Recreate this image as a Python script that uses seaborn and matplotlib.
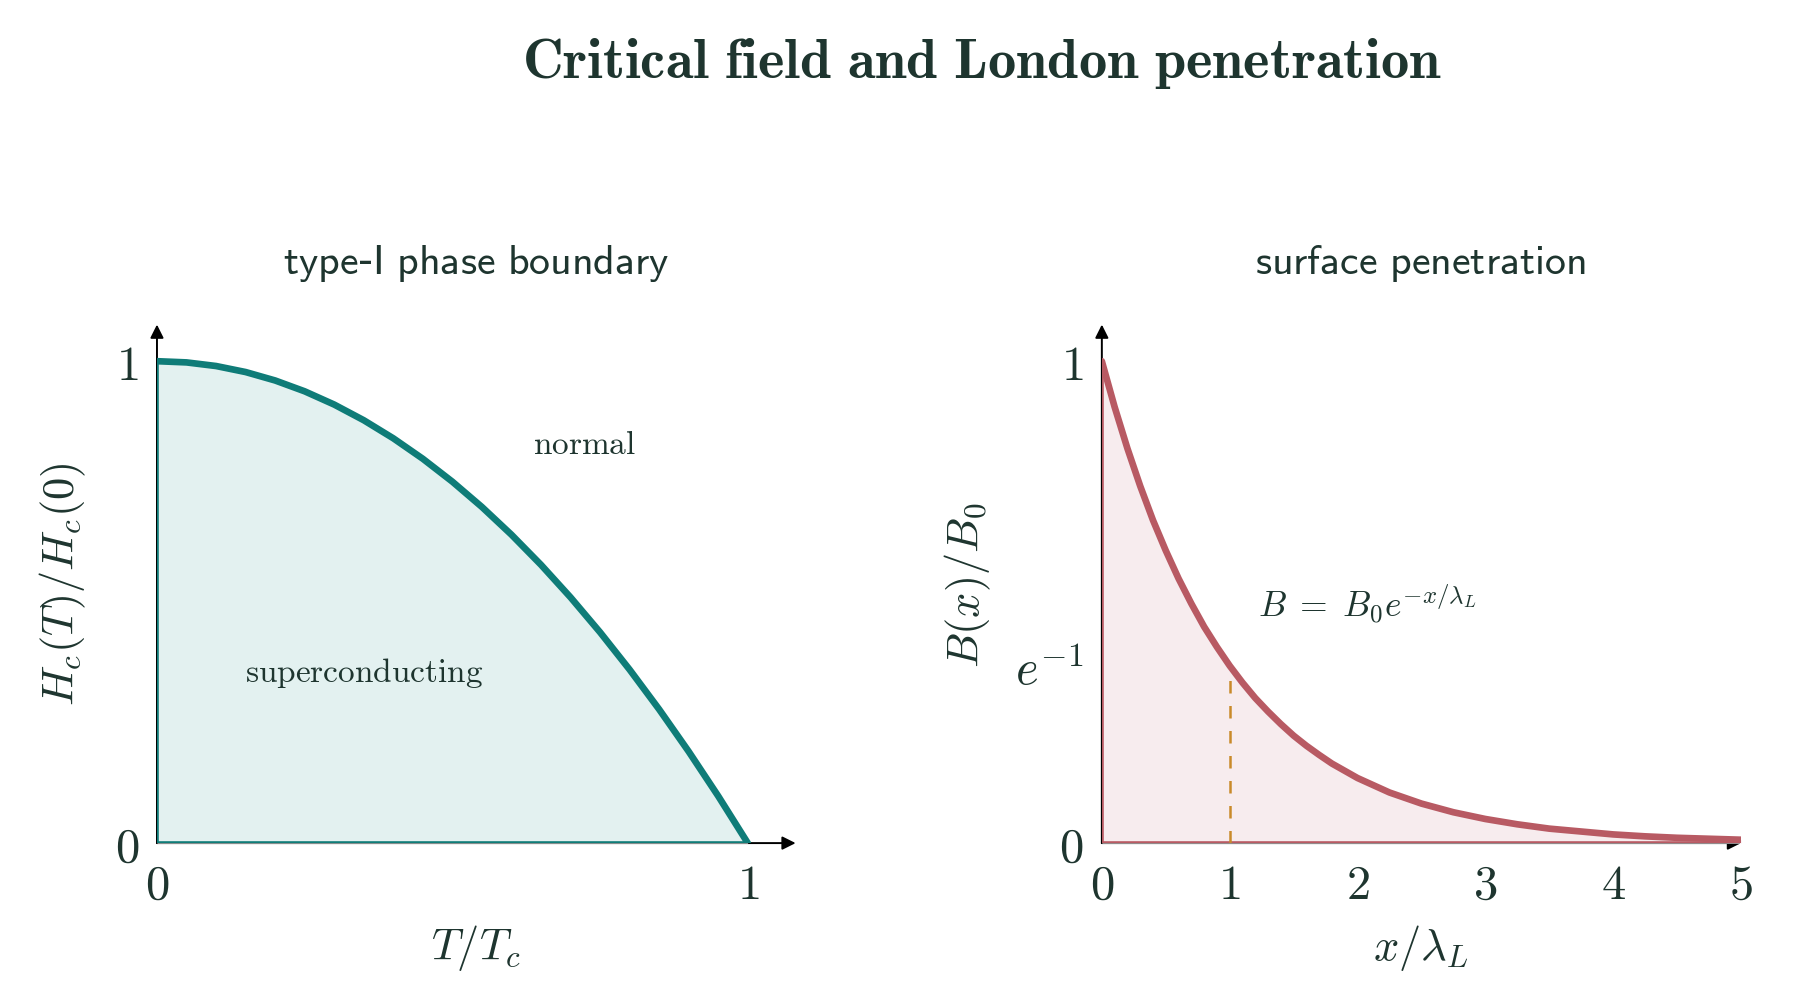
import matplotlib
matplotlib.use("Agg")
import matplotlib.pyplot as plt
import seaborn as sns

# critical field curve
t_vals = [0.0, 0.05, 0.1, 0.15, 0.2, 0.25, 0.3, 0.35, 0.4, 0.45, 0.5,
          0.55, 0.6, 0.65, 0.7, 0.75, 0.8, 0.85, 0.9, 0.95, 1.0]
hc_vals = [1.0, 0.9975, 0.99, 0.9775, 0.96, 0.9375, 0.91, 0.8775, 0.84, 0.7975, 0.75,
           0.6975, 0.64, 0.5775, 0.51, 0.4375, 0.36, 0.2775, 0.19, 0.0975, 0.0]

# field decay
x_vals = [0.0, 0.1, 0.2, 0.3, 0.4, 0.5, 0.6, 0.7, 0.8, 0.9, 1.0,
          1.1, 1.2, 1.3, 1.4, 1.5, 1.6, 1.7, 1.8, 1.9, 2.0,
          2.25, 2.5, 2.75, 3.0, 3.25, 3.5, 3.75, 4.0, 4.25, 4.5, 4.75, 5.0]
b_vals = [1.0, 0.905, 0.819, 0.741, 0.670, 0.607, 0.549, 0.497, 0.449, 0.407, 0.368,
          0.333, 0.301, 0.273, 0.247, 0.223, 0.202, 0.183, 0.165, 0.150, 0.135,
          0.105, 0.082, 0.064, 0.050, 0.039, 0.030, 0.024, 0.018, 0.014, 0.011, 0.009, 0.007]

e_inv = 0.368
dash_top = 0.35

sns.set_style("white")
plt.rcParams["mathtext.fontset"] = "cm"
plt.rcParams["font.family"] = ["DejaVu Sans"]

ink = "#1e352f"
teal = "#0f7c78"
teal_fill = "#e3f1f0"
rose = "#b85a63"
rose_fill = "#f7ecee"
amber = "#c98a2a"

fig = plt.figure(figsize=(8.98, 5.04), dpi=200)
ax1 = fig.add_axes([0.0874, 0.1636, 0.3556, 0.5144])
ax2 = fig.add_axes([0.6135, 0.1636, 0.3559, 0.5144])


def style_axes(ax):
    for s in ax.spines.values():
        s.set_visible(False)
    ax.tick_params(direction="out", length=3, width=0.6, color="#888888",
                   labelsize=17.5, labelcolor=ink, pad=3.5)
    ax.annotate("", xy=(1, 0), xytext=(0, 0), xycoords="axes fraction",
                arrowprops=dict(arrowstyle="-|>", color="black", lw=0.7,
                                mutation_scale=10, shrinkA=0, shrinkB=0), zorder=1)
    ax.annotate("", xy=(0, 1), xytext=(0, 0), xycoords="axes fraction",
                arrowprops=dict(arrowstyle="-|>", color="black", lw=0.7,
                                mutation_scale=10, shrinkA=0, shrinkB=0), zorder=1)


# left: type-I phase boundary
ax1.fill_between(t_vals, hc_vals, 0, color=teal_fill, lw=0, zorder=2)
ax1.plot([0, 0], [0, 1], color=teal, lw=1.3, zorder=3)
ax1.plot([0, 1], [0, 0], color=teal, lw=1.3, zorder=3)
sns.lineplot(x=t_vals, y=hc_vals, ax=ax1, color=teal, lw=2.4, zorder=4,
             sort=False, estimator=None)
ax1.set_xlim(0, 1.081)
ax1.set_ylim(0, 1.076)
ax1.set_xticks([0, 1], [r"$0$", r"$1$"])
ax1.set_yticks([0, 1], [r"$0$", r"$1$"])
style_axes(ax1)
ax1.text(0.723, 0.827, r"$\mathrm{normal}$", ha="center", va="center",
         fontsize=12, color=ink)
ax1.text(0.351, 0.352, r"$\mathrm{superconducting}$", ha="center", va="center",
         fontsize=12, color=ink)

# right: surface penetration
ax2.fill_between(x_vals, b_vals, 0, color=rose_fill, lw=0, zorder=2)
ax2.plot([0, 0], [0, 1], color=rose, lw=1.3, zorder=3)
ax2.plot([0, 5], [0, 0], color=rose, lw=1.3, zorder=3)
sns.lineplot(x=x_vals, y=b_vals, ax=ax2, color=rose, lw=2.4, zorder=4,
             sort=False, estimator=None)
ax2.plot([1, 1], [0, dash_top], color=amber, lw=0.9, ls=(0, (5, 5)), zorder=3)
ax2.set_xlim(0, 5)
ax2.set_ylim(0, 1.076)
ax2.set_xticks([0, 1, 2, 3, 4, 5], [rf"${i}$" for i in range(6)])
ax2.set_yticks([0, e_inv, 1], [r"$0$", r"$e^{-1}$", r"$1$"])
style_axes(ax2)
ax2.text(1.22, 0.496, r"$B\;=\;B_0e^{-x/\lambda_L}$", ha="left", va="center",
         fontsize=12.8, color=ink)

# titles and labels
fig.text(0.547, 0.937, r"$\mathbf{Critical\ field\ and\ London\ penetration}$",
         ha="center", va="center", fontsize=20.3, color=ink)
fig.text(0.265, 0.739, r"$\mathsf{type}$-$\mathsf{I\ phase\ boundary}$",
         ha="center", va="center", fontsize=15.1, color=ink)
fig.text(0.791, 0.739, r"$\mathsf{surface\ penetration}$",
         ha="center", va="center", fontsize=15.1, color=ink)
fig.text(0.265, 0.06, r"$T/T_c$", ha="center", va="center", fontsize=16, color=ink)
fig.text(0.791, 0.06, r"$x/\lambda_L$", ha="center", va="center", fontsize=16, color=ink)
fig.text(0.035, 0.42, r"$H_c(T)/H_c(0)$", ha="center", va="center", rotation=90,
         fontsize=16, color=ink)
fig.text(0.539, 0.42, r"$B(x)/B_0$", ha="center", va="center", rotation=90,
         fontsize=16, color=ink)

fig.savefig("out.png", dpi=200)
